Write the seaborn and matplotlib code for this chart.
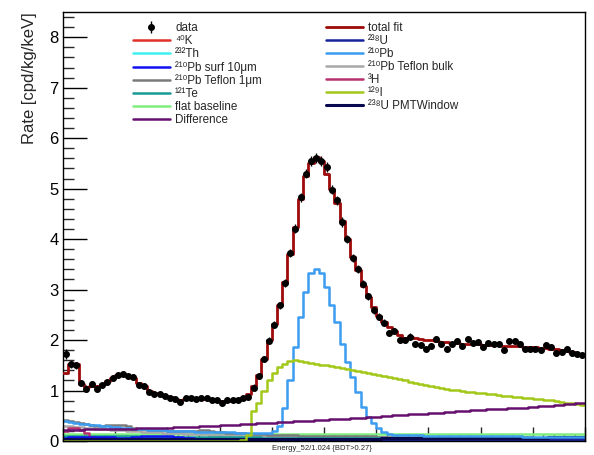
import numpy as np
import pandas as pd
import matplotlib
matplotlib.use("Agg")
import matplotlib.pyplot as plt
from matplotlib.lines import Line2D
from matplotlib.ticker import MultipleLocator, NullFormatter
import seaborn as sns

# ---------------- data (100 bins) ----------------
x_min, x_max = 0.0, 100.0
n_bins = 100

data_vals = [1.72, 1.52, 1.50, 1.15, 1.04, 1.13, 1.04, 1.11, 1.17, 1.24,
             1.31, 1.33, 1.29, 1.26, 1.11, 1.09, 0.98, 0.94, 0.93, 0.89,
             0.86, 0.83, 0.78, 0.85, 0.85, 0.83, 0.86, 0.85, 0.82, 0.81,
             0.75, 0.81, 0.81, 0.82, 0.85, 0.88,
             1.06, 1.29, 1.62, 1.99, 2.30, 2.69, 3.13, 3.72, 4.21, 4.83,
             5.30, 5.55, 5.60, 5.55, 5.42, 4.98, 4.77, 4.34, 4.01, 3.62,
             3.40, 3.11, 2.87, 2.59, 2.46, 2.34, 2.14, 2.18, 2.01, 2.01,
             2.07, 1.93, 1.90, 1.83, 1.88, 2.03, 1.93, 1.82, 1.92, 1.99,
             1.88, 2.03, 1.95, 1.97, 1.87, 1.95, 1.93, 1.93, 1.80, 1.99,
             1.99, 1.92, 1.83, 1.82, 1.83, 1.80, 1.90, 1.87, 1.75, 1.77,
             1.83, 1.74, 1.72, 1.70]

data_err = [0.10, 0.07, 0.07, 0.06, 0.06, 0.06, 0.06, 0.06, 0.06, 0.06,
            0.06, 0.06, 0.06, 0.06, 0.06, 0.06, 0.05, 0.05, 0.05, 0.05,
            0.05, 0.05, 0.05, 0.05, 0.05, 0.05, 0.05, 0.05, 0.05, 0.05,
            0.05, 0.05, 0.05, 0.05, 0.05, 0.05,
            0.06, 0.06, 0.06, 0.07, 0.07, 0.07, 0.08, 0.08, 0.09, 0.09,
            0.09, 0.10, 0.10, 0.10, 0.10, 0.09, 0.09, 0.09, 0.08, 0.08,
            0.08, 0.08, 0.07, 0.07, 0.07, 0.07, 0.06, 0.06, 0.06, 0.06,
            0.06, 0.06, 0.06, 0.06, 0.06, 0.06, 0.06, 0.06, 0.06, 0.06,
            0.06, 0.06, 0.06, 0.06, 0.06, 0.06, 0.06, 0.06, 0.06, 0.06,
            0.06, 0.06, 0.06, 0.06, 0.06, 0.06, 0.06, 0.06, 0.06, 0.06,
            0.06, 0.06, 0.06, 0.06]

total_fit = [1.35, 1.53, 1.53, 1.12, 1.07, 1.08, 1.08, 1.12, 1.18, 1.25,
             1.30, 1.31, 1.29, 1.24, 1.15, 1.08, 1.00, 0.96, 0.93, 0.90,
             0.87, 0.84, 0.82, 0.83, 0.84, 0.85, 0.85, 0.84, 0.82, 0.80,
             0.79, 0.79, 0.80, 0.82, 0.86, 0.93,
             1.08, 1.30, 1.62, 2.00, 2.32, 2.70, 3.15, 3.70, 4.25, 4.80,
             5.25, 5.50, 5.62, 5.55, 5.30, 5.00, 4.72, 4.35, 4.00, 3.65,
             3.38, 3.08, 2.85, 2.65, 2.48, 2.35, 2.25, 2.17, 2.10, 2.05,
             2.06, 2.04, 2.02, 2.01, 2.00, 1.99, 1.97, 1.96, 1.95, 1.94,
             1.93, 1.93, 1.92, 1.92, 1.91, 1.91, 1.90, 1.90, 1.89, 1.89,
             1.88, 1.88, 1.87, 1.86, 1.86, 1.85, 1.84, 1.83, 1.82, 1.80,
             1.78, 1.76, 1.73, 1.70]

pb210 = [0.40, 0.38, 0.36, 0.34, 0.33, 0.32, 0.31, 0.30, 0.29, 0.28,
         0.27, 0.26, 0.25, 0.24, 0.24, 0.23, 0.22, 0.22, 0.21, 0.21,
         0.20, 0.20, 0.19, 0.19, 0.19, 0.18, 0.18, 0.18, 0.18, 0.17,
         0.17, 0.17, 0.17, 0.16, 0.16, 0.16, 0.16, 0.16, 0.16,
         0.16, 0.20, 0.30, 0.65, 1.20, 1.87, 2.46, 2.96, 3.32, 3.40,
         3.32, 3.06, 2.69, 2.36, 1.93, 1.57, 1.27, 0.98, 0.68, 0.48,
         0.35, 0.25, 0.18, 0.14, 0.12,
         0.11, 0.11, 0.11, 0.11, 0.11, 0.10, 0.10, 0.10, 0.10, 0.10,
         0.10, 0.10, 0.10, 0.09, 0.09, 0.09, 0.09, 0.09, 0.09, 0.09,
         0.09, 0.09, 0.09, 0.09, 0.08, 0.08, 0.08, 0.08, 0.08, 0.08,
         0.08, 0.08, 0.08, 0.08, 0.08, 0.08]

i129 = [0.00, 0.00, 0.00, 0.00, 0.00, 0.00, 0.00, 0.00, 0.00, 0.00,
        0.00, 0.00, 0.00, 0.00, 0.00, 0.00, 0.00, 0.00, 0.00, 0.00,
        0.00, 0.00, 0.00, 0.00, 0.00, 0.00, 0.00, 0.00, 0.00, 0.00,
        0.00, 0.00, 0.00, 0.00, 0.02,
        0.12, 0.60, 0.75, 1.00, 1.20, 1.35, 1.46, 1.53, 1.58, 1.60,
        1.58, 1.57, 1.55, 1.53, 1.51, 1.50, 1.48, 1.46, 1.44, 1.42,
        1.41, 1.39, 1.37, 1.35, 1.33, 1.31, 1.29, 1.27, 1.25, 1.22,
        1.20, 1.17, 1.15, 1.12, 1.10, 1.09, 1.07, 1.06, 1.04, 1.02,
        1.01, 1.00, 0.98, 0.97, 0.96, 0.95, 0.94, 0.93, 0.91, 0.90,
        0.89, 0.88, 0.87, 0.86, 0.85, 0.84, 0.83, 0.82, 0.81, 0.80,
        0.78, 0.76, 0.75, 0.73, 0.71]

difference = [0.220, 0.222, 0.224, 0.226, 0.228, 0.230, 0.232, 0.234, 0.236, 0.238,
              0.240, 0.242, 0.244, 0.246, 0.248, 0.250, 0.253, 0.256, 0.259, 0.262,
              0.265, 0.269, 0.273, 0.277, 0.281, 0.285, 0.290, 0.295, 0.300, 0.305,
              0.310, 0.315, 0.320, 0.325, 0.330, 0.335, 0.341, 0.347, 0.353, 0.359,
              0.365, 0.371, 0.377, 0.383, 0.389, 0.395, 0.400, 0.405, 0.410, 0.415,
              0.420, 0.426, 0.432, 0.438, 0.444, 0.450, 0.457, 0.464, 0.471, 0.478,
              0.485, 0.492, 0.499, 0.506, 0.513, 0.520, 0.526, 0.532, 0.538, 0.544,
              0.550, 0.557, 0.564, 0.571, 0.578, 0.585, 0.592, 0.599, 0.606, 0.613,
              0.620, 0.625, 0.630, 0.635, 0.640, 0.645, 0.651, 0.657, 0.663, 0.669,
              0.675, 0.684, 0.693, 0.702, 0.711, 0.720, 0.730, 0.740, 0.750, 0.760]

pb210_teflon_1um = [0.42, 0.40, 0.37, 0.35, 0.33, 0.31, 0.30, 0.30, 0.31, 0.32,
                    0.32, 0.31, 0.29, 0.26, 0.24, 0.23, 0.22, 0.22, 0.21, 0.21,
                    0.20, 0.20, 0.20, 0.19, 0.19, 0.20, 0.21, 0.21, 0.20, 0.18,
                    0.17, 0.16, 0.16, 0.15, 0.15, 0.14, 0.14, 0.13, 0.13, 0.12,
                    0.12, 0.12, 0.11, 0.11, 0.11, 0.10, 0.10, 0.10, 0.10, 0.09,
                    0.09, 0.09, 0.09, 0.09, 0.09, 0.09, 0.09, 0.09, 0.09, 0.09,
                    0.08, 0.08, 0.08, 0.08, 0.08, 0.08, 0.08, 0.08, 0.08, 0.08,
                    0.08, 0.08, 0.08, 0.08, 0.08, 0.07, 0.07, 0.07, 0.07, 0.07,
                    0.07, 0.07, 0.07, 0.07, 0.07, 0.07, 0.07, 0.07, 0.07, 0.07,
                    0.06, 0.06, 0.06, 0.06, 0.06, 0.06, 0.06, 0.06, 0.06, 0.06]

pb210_teflon_bulk = [0.30, 0.29, 0.28, 0.27, 0.26, 0.25, 0.24, 0.24, 0.23, 0.22,
                     0.22, 0.21, 0.20, 0.20, 0.19, 0.18, 0.18, 0.17, 0.17, 0.16,
                     0.16, 0.15, 0.15, 0.14, 0.14, 0.13, 0.13, 0.13, 0.12, 0.12,
                     0.12, 0.11, 0.11, 0.11, 0.10, 0.10, 0.10, 0.10, 0.09, 0.09,
                     0.09, 0.09, 0.09, 0.08, 0.08, 0.08, 0.08, 0.08, 0.08, 0.08,
                     0.07, 0.07, 0.07, 0.07, 0.07, 0.07, 0.07, 0.07, 0.07, 0.07,
                     0.07, 0.07, 0.06, 0.06, 0.06, 0.06, 0.06, 0.06, 0.06, 0.06,
                     0.06, 0.06, 0.06, 0.06, 0.06, 0.06, 0.06, 0.06, 0.06, 0.06,
                     0.05, 0.05, 0.05, 0.05, 0.05, 0.05, 0.05, 0.05, 0.05, 0.05,
                     0.05, 0.05, 0.05, 0.05, 0.05, 0.05, 0.05, 0.05, 0.05, 0.05]

pb210_surf = [0.06, 0.07, 0.08, 0.08, 0.08, 0.08, 0.07, 0.07, 0.07, 0.07,
              0.06, 0.06, 0.06, 0.07, 0.08, 0.09, 0.10, 0.10, 0.10, 0.09,
              0.09, 0.08, 0.07, 0.06, 0.05, 0.04, 0.03, 0.03, 0.02, 0.02,
              0.02, 0.02, 0.02, 0.02, 0.02, 0.01, 0.01, 0.01, 0.01, 0.01,
              0.01, 0.01, 0.01, 0.01, 0.01, 0.01, 0.01, 0.01, 0.01, 0.01,
              0.01, 0.01, 0.01, 0.01, 0.01, 0.01, 0.01, 0.01, 0.01, 0.01,
              0.01, 0.01, 0.01, 0.01, 0.01, 0.01, 0.01, 0.01, 0.01, 0.01,
              0.01, 0.01, 0.01, 0.01, 0.01, 0.01, 0.01, 0.01, 0.01, 0.01,
              0.01, 0.01, 0.01, 0.01, 0.01, 0.01, 0.01, 0.01, 0.01, 0.01,
              0.01, 0.01, 0.01, 0.01, 0.01, 0.01, 0.01, 0.01, 0.01, 0.01]

te121 = [0.10, 0.10, 0.10, 0.10, 0.10, 0.10, 0.09, 0.09, 0.09, 0.09,
         0.09, 0.09, 0.09, 0.09, 0.09, 0.08, 0.08, 0.08, 0.08, 0.08,
         0.08, 0.08, 0.08, 0.08, 0.08, 0.07, 0.07, 0.07, 0.07, 0.07,
         0.07, 0.07, 0.07, 0.07, 0.07, 0.07, 0.07, 0.07, 0.06, 0.06,
         0.06, 0.06, 0.06, 0.06, 0.06, 0.06, 0.06, 0.06, 0.06, 0.06,
         0.06, 0.06, 0.06, 0.06, 0.06, 0.06, 0.06, 0.06, 0.06, 0.06,
         0.06, 0.06, 0.06, 0.06, 0.06, 0.06, 0.06, 0.06, 0.06, 0.06,
         0.05, 0.05, 0.05, 0.05, 0.05, 0.05, 0.05, 0.05, 0.05, 0.05,
         0.05, 0.05, 0.05, 0.05, 0.05, 0.05, 0.05, 0.05, 0.05, 0.05,
         0.05, 0.05, 0.05, 0.05, 0.05, 0.05, 0.05, 0.05, 0.05, 0.05]

h3 = [0.20, 0.26, 0.25, 0.22, 0.15, 0.08, 0.04, 0.02, 0.01, 0.01,
      0.00, 0.00, 0.00, 0.00, 0.00, 0.00, 0.00, 0.00, 0.00, 0.00,
      0.00, 0.00, 0.00, 0.00, 0.00, 0.00, 0.00, 0.00, 0.00, 0.00,
      0.00, 0.00, 0.00, 0.00, 0.00, 0.00, 0.00, 0.00, 0.00, 0.00,
      0.00, 0.00, 0.00, 0.00, 0.00, 0.00, 0.00, 0.00, 0.00, 0.00,
      0.00, 0.00, 0.00, 0.00, 0.00, 0.00, 0.00, 0.00, 0.00, 0.00,
      0.00, 0.00, 0.00, 0.00, 0.00, 0.00, 0.00, 0.00, 0.00, 0.00,
      0.00, 0.00, 0.00, 0.00, 0.00, 0.00, 0.00, 0.00, 0.00, 0.00,
      0.00, 0.00, 0.00, 0.00, 0.00, 0.00, 0.00, 0.00, 0.00, 0.00,
      0.00, 0.00, 0.00, 0.00, 0.00, 0.00, 0.00, 0.00, 0.00, 0.00]

k40 = [0.03] * 100
th232 = [0.04] * 100
u238 = [0.02] * 100
flat_baseline = [0.14] * 100
u238_pmt = [0.03, 0.03, 0.03, 0.03, 0.03, 0.03, 0.03, 0.03, 0.03, 0.03,
            0.03, 0.03, 0.03, 0.03, 0.03, 0.03, 0.03, 0.03, 0.03, 0.03,
            0.03, 0.03, 0.03, 0.03, 0.03, 0.03, 0.03, 0.03, 0.03, 0.03,
            0.03, 0.03, 0.03, 0.03, 0.03, 0.03, 0.03, 0.03, 0.03, 0.03,
            0.03, 0.03, 0.03, 0.03, 0.03, 0.03, 0.03, 0.03, 0.03, 0.03,
            0.03, 0.03, 0.03, 0.03, 0.03, 0.03, 0.03, 0.03, 0.04, 0.04,
            0.04, 0.05, 0.05, 0.05, 0.06, 0.06, 0.06, 0.06, 0.06, 0.06,
            0.06, 0.06, 0.06, 0.06, 0.06, 0.06, 0.06, 0.06, 0.06, 0.06,
            0.05, 0.05, 0.05, 0.05, 0.05, 0.05, 0.05, 0.05, 0.05, 0.06,
            0.06, 0.06, 0.06, 0.07, 0.07, 0.07, 0.08, 0.08, 0.08, 0.08]

y_ticks = [0, 1, 2, 3, 4, 5, 6, 7, 8]
y_label = "Rate [cpd/kg/keV]"
x_label = "Energy_52/1.024 {BDT>0.27}"

# ---------------- style ----------------
sns.set_theme(style="white")
plt.rcParams["font.family"] = ["Liberation Sans", "DejaVu Sans"]

W, H = 594, 455
fig = plt.figure(figsize=(W / 100, H / 100), dpi=100)
ax = fig.add_axes([63 / W, 1 - 441 / H, 522 / W, 429 / H])

edges = np.linspace(x_min, x_max, n_bins + 1)
centers = 0.5 * (edges[:-1] + edges[1:])


def draw_step(vals, color, lw=1.8, z=2):
    y = list(vals) + [vals[-1]]
    df = pd.DataFrame({"x": edges, "y": y})
    sns.lineplot(data=df, x="x", y="y", drawstyle="steps-post", color=color,
                 lw=lw, ax=ax, estimator=None, sort=False, legend=False,
                 zorder=z)
    return Line2D([], [], color=color, lw=lw)


colors = {
    "total fit": "#9e0a0a",
    "40K": "#e0302a",
    "238U": "#17239a",
    "232Th": "#3ff0f0",
    "210Pb": "#3b9cf0",
    "210Pb surf": "#1010f0",
    "210Pb Teflon bulk": "#a8a8a8",
    "210Pb Teflon 1um": "#7a7a7a",
    "3H": "#b8306e",
    "121Te": "#169a96",
    "129I": "#a2c81a",
    "flat baseline": "#7fee7f",
    "238U PMTWindow": "#08084e",
    "Difference": "#66106e",
}

h = {}
h["flat baseline"] = draw_step(flat_baseline, colors["flat baseline"])
h["210Pb Teflon bulk"] = draw_step(pb210_teflon_bulk, colors["210Pb Teflon bulk"])
h["210Pb Teflon 1um"] = draw_step(pb210_teflon_1um, colors["210Pb Teflon 1um"])
h["121Te"] = draw_step(te121, colors["121Te"])
h["232Th"] = draw_step(th232, colors["232Th"])
h["40K"] = draw_step(k40, colors["40K"])
h["3H"] = draw_step(h3, colors["3H"])
h["210Pb surf"] = draw_step(pb210_surf, colors["210Pb surf"])
h["238U"] = draw_step(u238, colors["238U"])
h["238U PMTWindow"] = draw_step(u238_pmt, colors["238U PMTWindow"], lw=2.2)
h["210Pb"] = draw_step(pb210, colors["210Pb"])
h["129I"] = draw_step(i129, colors["129I"])
h["Difference"] = draw_step(difference, colors["Difference"])
h["total fit"] = draw_step(total_fit, colors["total fit"], lw=2.0, z=3)

eb = ax.errorbar(centers, data_vals, yerr=data_err, fmt="o", color="black",
                 ms=4.0, elinewidth=1.0, capsize=0, zorder=5)
h["data"] = eb

# ---------------- axes ----------------
ax.set_xlim(x_min, x_max)
ax.set_ylim(0, 8.5)
ax.set_yticks(y_ticks)
ax.set_yticklabels([str(t) for t in y_ticks])
ax.yaxis.set_minor_locator(MultipleLocator(0.2))
ax.xaxis.set_major_locator(MultipleLocator(10))
ax.xaxis.set_minor_locator(MultipleLocator(2))
ax.xaxis.set_major_formatter(NullFormatter())
ax.tick_params(axis="y", which="major", direction="in", length=17, width=1,
               labelsize=12, pad=3, colors="black", left=True)
ax.tick_params(axis="y", which="minor", direction="in", length=8, width=1,
               left=True)
ax.tick_params(axis="x", which="major", direction="in", length=10, width=1,
               bottom=True, labelbottom=False)
ax.tick_params(axis="x", which="minor", direction="in", length=5, width=1,
               bottom=True)
for s in ax.spines.values():
    s.set_color("black")
    s.set_linewidth(1.0)
ax.set_xlabel("")
ax.set_ylabel(y_label, fontsize=12, loc="top")
ax.yaxis.set_label_coords(-0.05, 1.0)
fig.text(322 / W, 1 - 448 / H, x_label, fontsize=5.5, ha="center", va="center")

col1 = [("data", "data"), ("40K", "⁴⁰K"), ("232Th", "²³²Th"),
        ("210Pb surf", "²¹⁰Pb surf 10μm"),
        ("210Pb Teflon 1um", "²¹⁰Pb Teflon 1μm"),
        ("121Te", "¹²¹Te"), ("flat baseline", "flat baseline"),
        ("Difference", "Difference")]
col2 = [("total fit", "total fit"), ("238U", "²³⁸U"),
        ("210Pb", "²¹⁰Pb"),
        ("210Pb Teflon bulk", "²¹⁰Pb Teflon bulk"),
        ("3H", "³H"), ("129I", "¹²⁹I"),
        ("238U PMTWindow", "²³⁸U PMTWindow")]

common = dict(loc="upper left", bbox_transform=fig.transFigure, frameon=False,
              fontsize=8.4, handlelength=3.15, handletextpad=0.45,
              labelspacing=0.08, borderpad=0, borderaxespad=0)
leg1 = ax.legend([h[k] for k, _ in col1], [l for _, l in col1],
                 bbox_to_anchor=(133 / W, 1 - 22 / H), **common)
ax.add_artist(leg1)
leg2 = ax.legend([h[k] for k, _ in col2], [l for _, l in col2],
                 bbox_to_anchor=(326 / W, 1 - 22 / H), **common)

fig.savefig("out.png", dpi=100)
